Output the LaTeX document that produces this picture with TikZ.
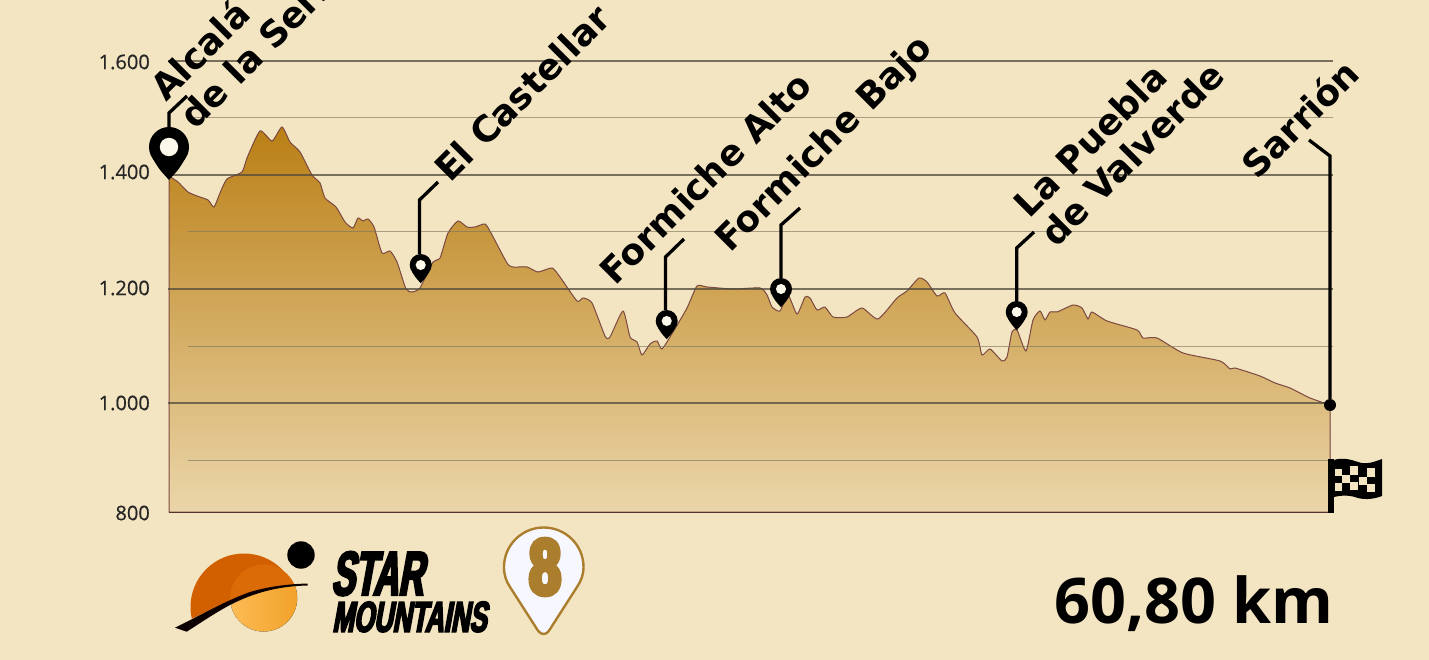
\documentclass[tikz,border=0pt]{standalone}
\usepackage{fontspec}
\usetikzlibrary{backgrounds}
\newfontfamily\labfont{DejaVu Sans}
\newfontfamily\tickfont[FakeBold=0.6]{Open Sans}
\newfontfamily\kmfont{Open Sans}
\newfontfamily\antonfont[FakeSlant=0.18,FakeStretch=0.56,FakeBold=4]{Liberation Sans}
\newfontfamily\antonwide[FakeSlant=0.18,FakeStretch=0.6,FakeBold=4]{Liberation Sans}
\newfontfamily\eightfont[FakeStretch=0.72,FakeBold=7]{Liberation Sans}
\definecolor{bgcream}{HTML}{F3E5C1}
\definecolor{fillTop}{HTML}{BA7F15}
\definecolor{fillBot}{HTML}{EBD6AA}
\definecolor{profline}{HTML}{7D4A44}
\definecolor{major}{HTML}{4F4A3C}
\definecolor{minor}{HTML}{80775F}
\definecolor{badge}{HTML}{AB7E2E}
\definecolor{pinhole}{HTML}{FCF9EA}
\tikzset{
  lab/.style={anchor=base west,rotate=45,inner sep=0pt,font=\labfont\bfseries\fontsize{36}{36}\selectfont},
  tick/.style={anchor=east,inner sep=0pt,font=\tickfont\fontsize{20}{20}\selectfont,text=black!85},
  leader/.style={line width=3.3pt,black,line cap=butt,line join=miter},
  majorline/.style={major,line width=2pt,opacity=.75},
  minorline/.style={minor,line width=1pt,opacity=.65},
  pinhead/.style={circle,fill=black,inner sep=0pt,minimum size=#1},
}
\newcommand{\mappin}[4]{% name,x,y,r
  \node[pinhead=#4*2pt] (#1) at (#2,#3) {};
  \fill[black] ({#2-.795*#4},{#3+.606*#4}) .. controls ({#2-.5*#4},{#3+1.1*#4}) .. (#2,{#3+1.65*#4})
     .. controls ({#2+.5*#4},{#3+1.1*#4}) .. ({#2+.795*#4},{#3+.606*#4}) -- cycle;
  \fill[pinhole] (#2,#3) circle ({.46*#4*1pt});
}
\begin{document}
\begin{tikzpicture}[x=1pt,y=-1pt]
\useasboundingbox (0,0) rectangle (1429,660);
\fill[bgcream] (0,0) rectangle (1429,660);
% profile
\path[save path=\profpath] (169,512) -- (169,176) -- plot[smooth,tension=.35] coordinates {
(169,176)(178,182)(188,192)(197,196)(208,200)(214,207)(220,193)(227,179)(242,172)(247,158)(260,131)(272,141)(282,127)(290,142)(300,152)(312,175)(320,183)(325,198)(336,207)(345,222)(353,228)(358,218)(363,221)(368,219)(374,227)(382,253)(390,251)(397,262)(406,289)(412,292)(420,288)(433,262)(440,258)(448,233)(458,221)(467,227)(475,227)(485,224)(491,233)(507,263)(513,267)(527,267)(538,272)(552,268)(560,277)(577,301)(583,298)(592,303)(605,336)(610,337)(623,311)(630,337)(637,342)(642,355)(650,344)(657,341)(662,349)(673,332)(687,308)(697,286)(707,287)(733,289)(760,288)(767,295)(772,307)(780,311)(788,295)(797,314)(805,297)(810,298)(817,310)(825,307)(833,317)(847,317)(862,308)(878,319)(897,298)(907,291)(919,278)(927,282)(937,296)(945,293)(955,313)(977,337)(982,355)(990,349)(1002,361)(1007,357)(1012,332)(1017,330)(1026,351)(1033,320)(1040,311)(1045,320)(1050,312)(1057,312)(1073,305)(1082,308)(1088,319)(1092,312)(1107,321)(1137,330)(1143,338)(1157,338)(1183,353)(1220,361)(1230,369)(1235,368)(1260,376)(1275,383)(1290,388)(1310,398)(1330,405)
} -- (1330,512) -- cycle;
\begin{scope}
\clip[use path=\profpath];
\fill[top color=fillTop,bottom color=fillBot] (160,127) rectangle (1340,513);
\end{scope}
\draw[use path=\profpath,profline,line width=1pt];
\draw[profline!70!black,line width=1.8pt] (169,512.5) -- (1330,512.5);
% grid
\foreach \yy in {61,175,289.3,403.3} \draw[majorline] (168,\yy) -- (1333,\yy);
\foreach \yy in {118,232,346,460} \draw[minorline] (188,\yy) -- (1333,\yy);
% ticks
\node[tick] (t1) at (150,62) {1.600};
\node[tick] (t2) at (150,172) {1.400};
\node[tick] (t3) at (150,288) {1.200};
\node[tick] (t4) at (150,403) {1.000};
\node[tick] (t5) at (150,513) {800};
% pins
\mappin{pA}{169}{147}{20}
\mappin{pB}{420.7}{265}{11}
\mappin{pC}{666.7}{321}{11}
\mappin{pD}{781}{289}{11}
\mappin{pE}{1016.7}{312}{11}
\node[circle,fill=black,inner sep=0pt,minimum size=12pt] (pF) at (1330,405) {};
% leaders
\coordinate (eA) at (169,113); \coordinate (fA) at (187,96);
\coordinate (eB) at (419.5,200); \coordinate (fB) at (438,182);
\coordinate (eC) at (665.5,257); \coordinate (fC) at (684,239);
\coordinate (eD) at (781,225); \coordinate (fD) at (800,208);
\coordinate (eE) at (1016.7,248); \coordinate (fE) at (1034,232);
\coordinate (eF) at (1330,156); \coordinate (fF) at (1309,140);
\draw[leader] (pA.north) -- (eA) -- (fA);
\draw[leader] (pB.north -| eB) -- (eB) -- (fB);
\draw[leader] (pC.north -| eC) -- (eC) -- (fC);
\draw[leader] (pD.north) -- (eD) -- (fD);
\draw[leader] (pE.north) -- (eE) -- (fE);
\draw[leader] (pF) -- (eF) -- (fF);
% labels
\node[lab] (a1) at (166,103) {Alcalá};
\node[lab] (a2) at (195,131) {de la Selva};
\node[lab] (b1) at (450,184) {El Castellar};
\node[lab] (c1) at (615,287) {Formiche Alto};
\node[lab] (d1) at (730,254) {Formiche Bajo};
\node[lab] (e1) at (1029,220) {La Puebla};
\node[lab] (e2) at (1056,249) {de Valverde};
\node[lab] (f1) at (1257,181) {Sarrión};
% flag
\fill[black] (1328.3,459) rectangle (1334.3,513);
\fill[black] (1334,460) .. controls (1343,457) and (1352,460) .. (1358,462) .. controls (1366,465) and (1374,462) .. (1382,459)
  -- (1382,496) .. controls (1374,499) and (1366,500) .. (1358,498) .. controls (1350,495) and (1342,495) .. (1334,497) -- cycle;
\fill[bgcream] (1334.5,468.5) rectangle (1341.5,475.5);
\fill[bgcream] (1341.5,474.5) rectangle (1350,482.5);
\fill[bgcream] (1350,466) rectangle (1358,474.5);
\fill[bgcream] (1359,476.7) rectangle (1366.7,485);
\fill[bgcream] (1366.7,468) rectangle (1375,476.7);
\fill[bgcream] (1334.5,482.7) rectangle (1341.5,490.7);
\fill[bgcream] (1350,481.7) rectangle (1358,490);
\fill[bgcream] (1366.7,484) rectangle (1375,492);
% logo
\definecolor{sunA}{HTML}{D26000}
\definecolor{sunB}{HTML}{DB6B06}
\definecolor{sunC}{HTML}{FCBC55}
\definecolor{sunD}{HTML}{F2A22A}
\begin{scope}
\clip (175,627) -- (216.7,606.7) .. controls (240,595) and (270,586) .. (307,584) -- (320,540) -- (170,540) -- cycle;
\fill[sunA] (244,607) circle (53.5pt);
\fill[sunB] (263.7,598) circle (33.5pt);
\end{scope}
\begin{scope}
\clip (186,632) -- (223,610) .. controls (250,592) and (280,586) .. (307,584) -- (320,640) -- cycle;
\fill[left color=sunC,right color=sunD] (263.7,598) circle (33.5pt);
\end{scope}
\fill[black!95!red] (175,627.7) .. controls (205,613) and (225,601) .. (250,592) .. controls (270,586) and (290,584) .. (307.7,583.5)
  -- (307.7,585.5) .. controls (285,586) and (265,590) .. (245,598) .. controls (225,606) and (205,620) .. (186.7,631.7) -- cycle;
\node[circle,fill=black,inner sep=0pt,minimum size=27.4pt] (dot) at (301,555) {};
\node[anchor=base west,inner sep=0pt,font=\antonfont\bfseries\fontsize{62}{62}\selectfont] (star) at (331,595) {STAR};
\node[anchor=base west,inner sep=0pt,font=\antonwide\bfseries\fontsize{43}{43}\selectfont] (mtn) at (332,631.7) {MOUNTAINS};
% badge
\draw[badge,line width=2.4pt,fill=blue!3!white,line join=round] (543.7,634)
 .. controls (540,634) and (538,631) .. (535,626) -- (510,587) .. controls (506,581) and (504,575) .. (504,567)
 .. controls (504,545) and (522,527.5) .. (543.7,527.5) .. controls (565.5,527.5) and (583.5,545) .. (583.5,567)
 .. controls (583.5,575) and (581,581) .. (577,587) -- (552,626) .. controls (549,631) and (547,634) .. (543.7,634) -- cycle;
\node[inner sep=0pt,text=badge,font=\eightfont\bfseries\fontsize{78}{78}\selectfont] (eight) at (545,567) {8};
% distance
\node[anchor=base east,inner sep=0pt,font=\kmfont\bfseries\fontsize{63}{63}\selectfont] (km) at (1334,623) {60,80 km};
\end{tikzpicture}
\end{document}
